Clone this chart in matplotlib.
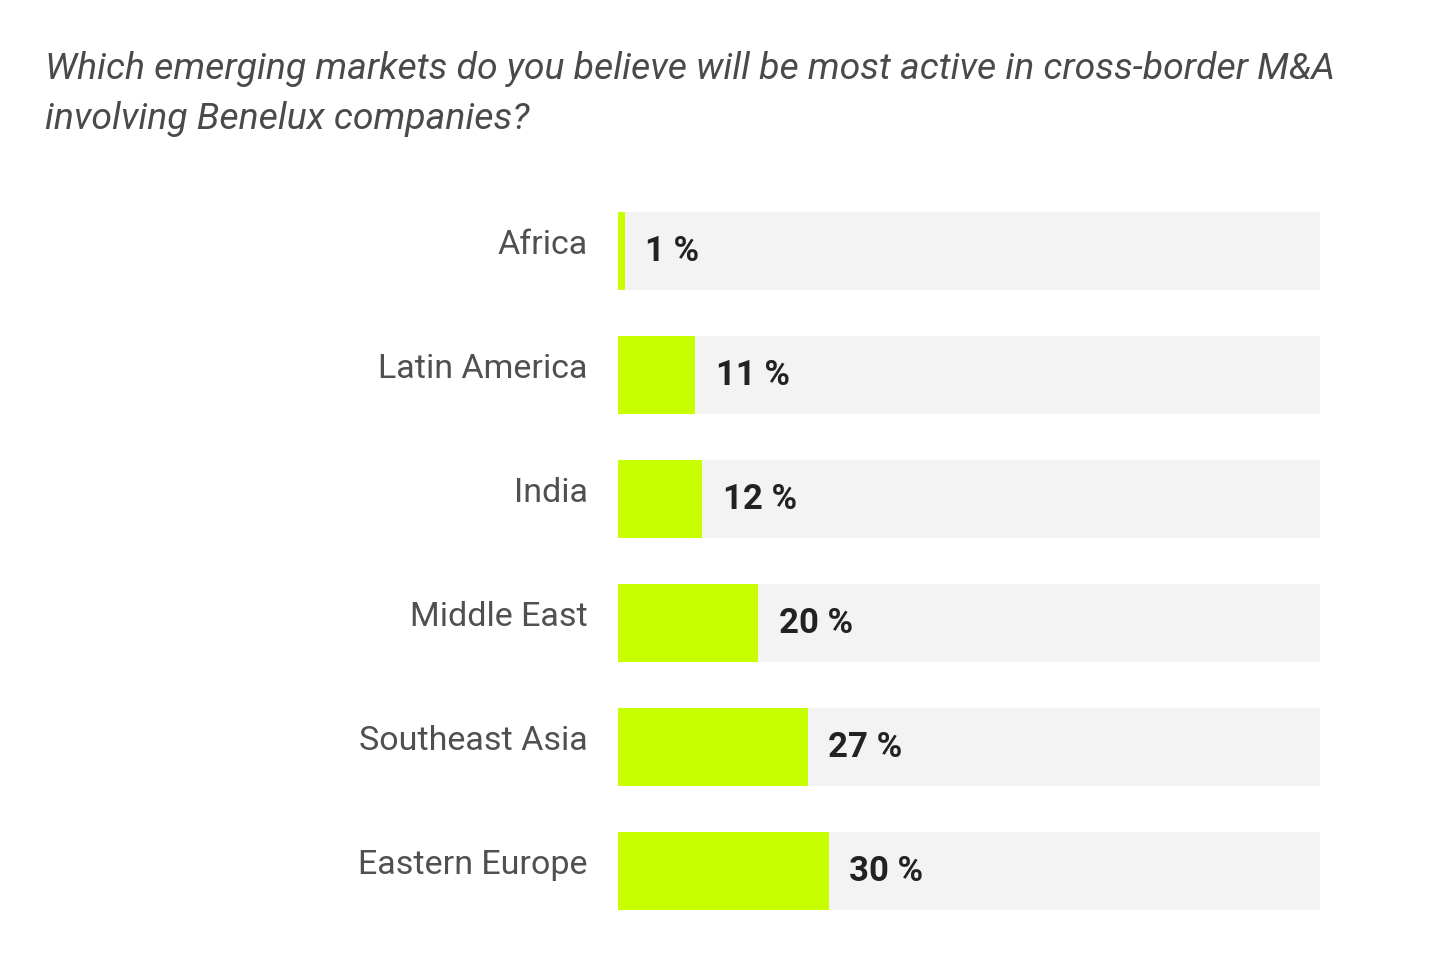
import matplotlib
matplotlib.use('Agg')
import matplotlib.pyplot as plt

plt.rcParams['font.family'] = ['Roboto', 'DejaVu Sans']

regions = ['Africa', 'Latin America', 'India', 'Middle East', 'Southeast Asia', 'Eastern Europe']
shares = [1, 11, 12, 20, 27, 30]

title = ('Which emerging markets do you believe will be most active in cross-border M&A\n'
         'involving Benelux companies?')

fig = plt.figure(figsize=(14.4, 9.72), dpi=100)
fig.patch.set_facecolor('white')
ax = fig.add_axes([618 / 1440, 1 - 933 / 972, 702 / 1440, 744 / 972])

y = list(range(len(regions)))
ax.barh(y, [100] * len(regions), height=0.63, color='#f3f3f3', zorder=1)
ax.barh(y, shares, height=0.63, color='#c8ff00', zorder=2)

for yi, v, name in zip(y, shares, regions):
    ax.text(v + 2.9, yi, f'{v} %', va='center', ha='left', fontsize=25,
            fontweight='bold', color='#222222', zorder=3)
    ax.text(-4.3, yi - 0.05, name, va='center', ha='right', fontsize=24.5,
            color='#505050')

ax.set_xlim(0, 100)
ax.set_ylim(len(regions) - 0.5, -0.5)
ax.axis('off')

fig.text(45 / 1440, 1 - 51 / 972, title, ha='left', va='top', fontsize=26.9,
         style='italic', color='#4a4a4a', linespacing=1.5)

plt.savefig('out.png', dpi=100, facecolor='white')
plt.close()
